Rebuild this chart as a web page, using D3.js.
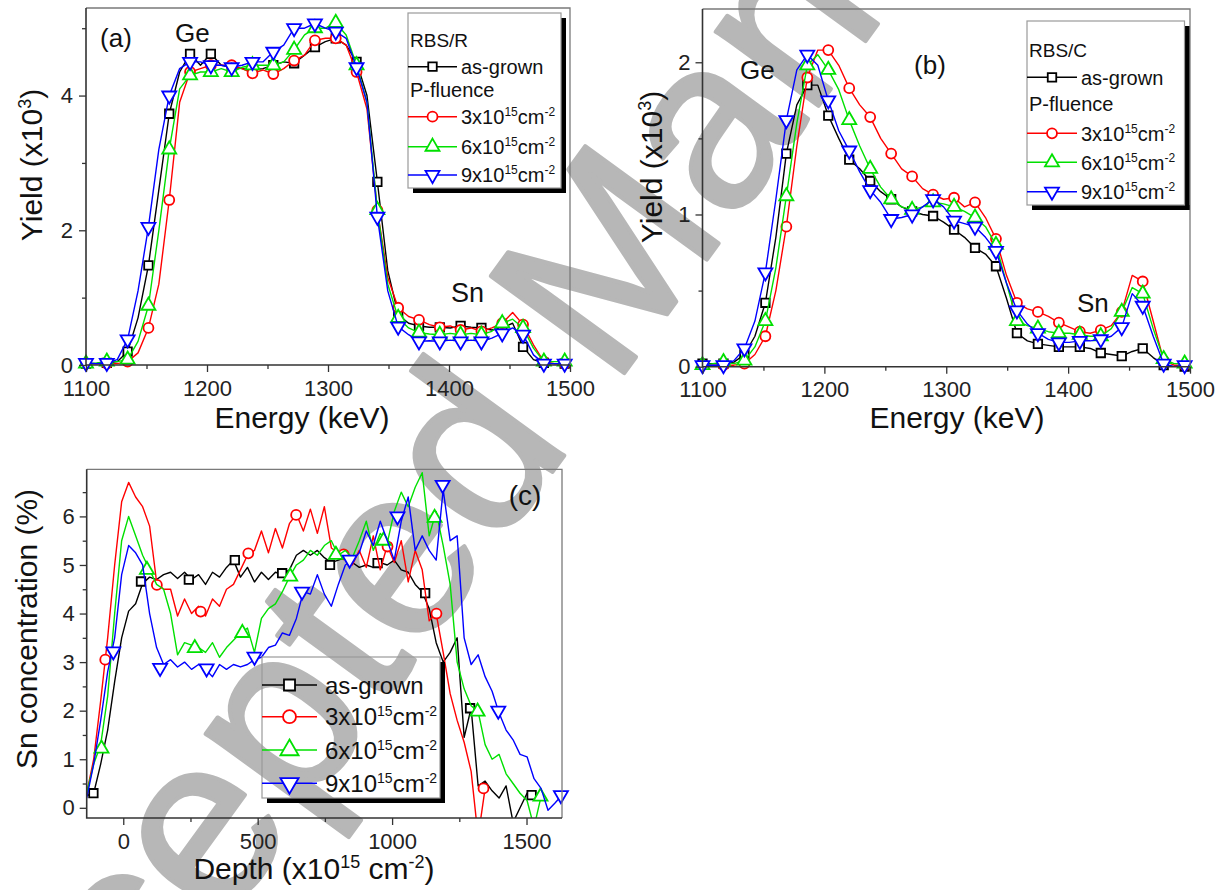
<!DOCTYPE html>
<html>
<head>
  <meta charset="utf-8">
  <title>RBS/R, RBS/C spectra and Sn depth profiles</title>
  <style type="text/css">
    body { margin: 0; background: #fff; }
    svg text { font-family: "Liberation Sans", Arial, sans-serif; fill: #111; white-space: pre; }
  </style>
</head>
<body>
<script src="https://cdn.jsdelivr.net/npm/d3@7"></script>
<script>

// ---------- data ----------
// channel energies (keV), shared by panels (a) and (b)
var energy = [1100, 1108.6, 1117.2, 1125.8, 1134.4, 1143, 1151.6, 1160.2, 1168.8, 1177.4,
  1186, 1194.6, 1203.2, 1211.8, 1220.4, 1229, 1237.6, 1246.2, 1254.8, 1263.4,
  1272, 1280.6, 1289.2, 1297.8, 1306.4, 1315, 1323.6, 1332.2, 1340.8, 1349.4,
  1358, 1366.6, 1375.2, 1383.8, 1392.4, 1401, 1409.6, 1418.2, 1426.8, 1435.4,
  1444, 1452.6, 1461.2, 1469.8, 1478.4, 1487, 1495.6, 1504.2];

// (a) RBS random yield, x10^3 counts
var rbsRAsGrown = [0.02, 0.02, 0.03, 0.05, 0.2, 0.7, 1.48, 2.6, 3.73, 4.35,
  4.62, 4.45, 4.62, 4.45, 4.42, 4.4, 4.38, 4.4, 4.45, 4.5,
  4.48, 4.6, 4.72, 4.8, 4.85, 4.75, 4.5, 4.0, 2.72, 1.4,
  0.75, 0.62, 0.58, 0.56, 0.56, 0.55, 0.58, 0.56, 0.55, 0.52,
  0.55, 0.62, 0.27, 0.08, 0.03, 0.02, 0.02, 0.02];
var rbsR3 = [0.02, 0.02, 0.02, 0.02, 0.05, 0.18, 0.55, 1.2, 2.45, 3.9,
  4.35, 4.4, 4.45, 4.45, 4.45, 4.4, 4.33, 4.38, 4.32, 4.4,
  4.52, 4.6, 4.82, 4.85, 4.85, 4.75, 4.35, 3.8, 2.3, 1.3,
  0.85, 0.72, 0.67, 0.6, 0.56, 0.58, 0.52, 0.55, 0.5, 0.55,
  0.62, 0.78, 0.6, 0.3, 0.05, 0.02, 0.02, 0.02];
var rbsR6 = [0.02, 0.03, 0.05, 0.05, 0.08, 0.35, 0.88, 2.0, 3.2, 4.1,
  4.3, 4.35, 4.35, 4.4, 4.35, 4.42, 4.45, 4.45, 4.45, 4.5,
  4.68, 4.9, 5.0, 5.0, 5.08, 4.9, 4.45, 3.9, 2.3, 1.2,
  0.7, 0.55, 0.48, 0.46, 0.45, 0.47, 0.45, 0.47, 0.45, 0.5,
  0.62, 0.68, 0.55, 0.25, 0.05, 0.05, 0.05, 0.05];
var rbsR9 = [0.03, 0.02, 0.03, 0.08, 0.38, 1.1, 2.05, 3.2, 4.0, 4.4,
  4.5, 4.5, 4.45, 4.45, 4.42, 4.45, 4.5, 4.5, 4.65, 4.75,
  5.0, 5.0, 5.07, 5.0, 4.95, 4.85, 4.42, 3.9, 2.2, 1.1,
  0.57, 0.45, 0.35, 0.36, 0.35, 0.37, 0.35, 0.37, 0.35, 0.4,
  0.47, 0.55, 0.45, 0.15, 0.02, 0.02, 0.02, 0.02];

// (b) RBS channeling yield, x10^3 counts
var rbsCAsGrown = [0.02, 0.02, 0.02, 0.03, 0.08, 0.2, 0.42, 0.85, 1.4, 1.72,
  1.85, 1.85, 1.65, 1.5, 1.36, 1.3, 1.22, 1.15, 1.1, 1.05,
  1.02, 1.0, 0.99, 0.95, 0.9, 0.85, 0.78, 0.74, 0.66, 0.45,
  0.22, 0.17, 0.15, 0.14, 0.13, 0.13, 0.13, 0.12, 0.09, 0.08,
  0.07, 0.1, 0.12, 0.06, 0.01, 0.0, 0.0, 0.0];
var rbsC3 = [0.01, 0.01, 0.01, 0.01, 0.02, 0.08, 0.2, 0.5, 0.92, 1.45,
  1.9, 2.08, 2.08, 1.98, 1.83, 1.72, 1.64, 1.5, 1.4, 1.3,
  1.25, 1.17, 1.13, 1.1, 1.11, 1.05, 1.08, 0.98, 0.84, 0.6,
  0.42, 0.38, 0.36, 0.33, 0.29, 0.26, 0.23, 0.22, 0.24, 0.27,
  0.36, 0.6, 0.56, 0.3, 0.04, 0.01, 0.01, 0.01];
var rbsC6 = [0.01, 0.02, 0.03, 0.02, 0.04, 0.13, 0.3, 0.65, 1.12, 1.6,
  1.98, 2.05, 1.95, 1.82, 1.62, 1.45, 1.3, 1.18, 1.1, 1.05,
  1.03, 1.05, 1.08, 1.07, 1.05, 1.02, 0.98, 0.92, 0.8, 0.55,
  0.3, 0.27, 0.25, 0.23, 0.22, 0.22, 0.21, 0.2, 0.2, 0.25,
  0.36, 0.52, 0.48, 0.25, 0.05, 0.02, 0.02, 0.03];
var rbsC9 = [0.01, 0.01, 0.01, 0.04, 0.12, 0.3, 0.62, 1.1, 1.62, 1.95,
  2.05, 1.98, 1.75, 1.55, 1.42, 1.28, 1.16, 1.08, 0.97, 0.98,
  1.0, 1.05, 1.1, 1.05, 0.96, 0.94, 0.92, 0.85, 0.76, 0.55,
  0.37, 0.28, 0.22, 0.18, 0.16, 0.16, 0.17, 0.17, 0.18, 0.2,
  0.26, 0.48, 0.4, 0.2, 0.02, 0.0, 0.01, 0.01];

// (c) Sn depth profiles, depth in 10^15 at/cm^2, concentration in %
var depth = [-136, -110, -84, -58, -32, -6, 20, 46, 72, 98,
  124, 150, 176, 202, 228, 254, 280, 306, 332, 358,
  384, 410, 436, 462, 488, 514, 540, 566, 592, 618,
  644, 670, 696, 722, 748, 774, 800, 826, 852, 878,
  904, 930, 956, 982, 1008, 1034, 1060, 1086, 1112, 1138,
  1164, 1190, 1216, 1242, 1268, 1294, 1320, 1346, 1372, 1398,
  1424, 1450, 1476, 1502, 1528, 1554, 1580, 1606, 1632];
var snAsGrown = [0.25, 0.3, 0.9, 1.6, 2.6, 3.5, 4.05, 4.2, 4.62, 4.75,
  4.7, 4.8, 4.85, 4.72, 4.85, 4.7, 4.8, 4.6, 4.85, 4.75,
  4.95, 5.1, 4.75, 4.95, 4.65, 4.85, 4.7, 4.85, 4.8, 4.9,
  5.2, 5.3, 5.2, 5.3, 5.15, 5.05, 5.1, 5.15, 5.05, 4.95,
  5.0, 4.95, 5.05, 5.0, 5.1, 4.9, 4.85, 4.6, 4.45, 4.1,
  3.4, 3.0, 3.2, 3.5, 1.45, 2.05, 0.45, 0.55, 0.35, 0.2,
  0.45, -0.3, 0.0, 0.3, 0.28, null, null, null, null];
var snP3 = [0.3, 1.0, 2.2, 3.5, 5.0, 6.3, 6.7, 6.4, 6.2, 5.8,
  4.65, 4.5, 4.5, 3.95, 4.3, 4.0, 4.15, 3.95, 4.3, 4.15,
  4.5, 4.6, 4.9, 5.2, 5.3, 5.7, 5.25, 5.75, 5.35, 5.85,
  6.05, 5.7, 6.15, 5.65, 6.2, 5.35, 5.25, 5.25, 5.0, 5.3,
  4.95, 5.6, 4.9, 5.4, 5.05, 5.5, 4.65, 5.3, 4.9, 3.85,
  4.0, 3.2, 2.35, 1.8, 1.35, 0.75, -0.6, 0.4, null, null,
  null, null, null, null, null, null, null, null, null];
var snP6 = [0.3, 0.9, 1.3, 2.3, 4.0, 5.5, 6.0, 5.6, 5.2, 4.9,
  4.6, 4.5, 4.0, 3.15, 3.4, 3.35, 3.3, 3.2, 3.4, 3.1,
  3.3, 3.45, 3.6, 3.7, 3.2, 3.9, 4.1, 4.2, 4.45, 4.75,
  5.0, 5.1, 5.3, 5.2, 5.4, 5.5, 5.2, 5.3, 5.15, 5.5,
  5.9, 5.3, 5.65, 5.45, 6.1, 6.5, 6.2, 6.6, 6.9, 5.6,
  6.1, 5.4, 4.6, 3.0, 2.45, 2.1, 1.98, 1.3, 1.0, 1.1,
  0.7, 0.5, 0.3, 0.15, -0.4, 0.23, null, null, null];
var snP9 = [0.2, 0.9, 1.8, 2.8, 3.5, 4.8, 5.4, 5.25, 5.0, 4.0,
  3.3, 2.95, 3.05, 2.9, 3.0, 2.85, 2.95, 2.85, 2.7, 2.95,
  2.85, 2.95, 2.9, 2.95, 3.05, 3.1, 3.3, 3.35, 3.6, 3.55,
  3.9, 4.45, 4.4, 4.8, 4.4, 4.15, 4.6, 5.0, 5.1, 5.25,
  5.7, 5.4, 5.9, 5.5, 5.1, 5.9, 6.4, 5.3, 5.6, 5.3,
  5.1, 6.55, 5.5, 5.6, 3.5, 2.95, 3.15, 2.7, 2.4, 1.95,
  1.6, 1.4, 1.1, 1.05, 0.6, 0.4, -0.05, 0.1, 0.26];

// (c) symbol positions
var markAsGrownD = [-111, 66, 244, 415, 591, 769, 946, 1123, 1290, 1519];
var markAsGrownC = [0.3, 4.66, 4.7, 5.1, 4.83, 5.0, 5.04, 4.42, 2.05, 0.26];
var markP3D = [-67, 125, 288, 465, 643, 820, 983, 1165, 1340];
var markP3C = [3.05, 4.59, 4.04, 5.24, 6.03, 5.22, 5.38, 4.0, 0.4];
var markP6D = [-81, 88, 266, 443, 621, 791, 968, 1158, 1318, 1552];
var markP6C = [1.22, 4.9, 3.29, 3.6, 4.76, 5.21, 5.5, 5.97, 1.98, 0.23];
var markP9D = [-37, 137, 310, 488, 665, 842, 1020, 1188, 1395, 1628];
var markP9C = [3.22, 2.88, 2.87, 3.11, 4.45, 5.11, 6.0, 6.65, 2.0, 0.26];

var seriesNames = ["as-grown", "3x10^15cm^-2", "6x10^15cm^-2", "9x10^15cm^-2"];

// ticks
var energyTicks = [1100, 1200, 1300, 1400, 1500];
var energyMinor = [1150, 1250, 1350, 1450];
var yieldRTicks = [0, 2, 4];
var yieldRMinor = [1, 3, 5];
var yieldCTicks = [0, 1, 2];
var yieldCMinor = [0.5, 1.5];
var depthTicks = [0, 500, 1000, 1500];
var depthMinor = [250, 750, 1250];
var concTicks = [0, 1, 2, 3, 4, 5, 6];
var concMinor = [0.5, 1.5, 2.5, 3.5, 4.5, 5.5, 6.5];

// ---------- styles ----------
var colors = ["#000000", "#ff0000", "#00e000", "#0000ff"];
var symbols = ["square", "circle", "triangle", "triangleDown"];

var svg = d3.select("body").append("svg")
  .attr("width", 1220)
  .attr("height", 890)
  .style("display", "block");

var defs = svg.append("defs");

// manuscript watermark, underneath everything
svg.append("text")
  .attr("transform", "translate(644,346) rotate(-54)")
  .attr("text-anchor", "middle")
  .style("font-size", "240px")
  .style("fill", "#b7b7b7")
  .style("stroke", "#b7b7b7")
  .style("stroke-width", "4px")
  .style("stroke-linejoin", "round")
  .text("Accepted Manuscript");

// ---------- helpers ----------
function symbolPath(kind, k) {
  k = k || 1;
  if (kind === "square") return d3.symbol(d3.symbolSquare, 72 * k * k)();
  if (kind === "circle") return d3.symbol(d3.symbolCircle, 78 * k * k)();
  return d3.symbol(d3.symbolTriangle, 85 * k * k)();
}

function drawSymbol(g, kind, x, y, color, k) {
  g.append("path")
    .attr("d", symbolPath(kind, k))
    .attr("transform", "translate(" + x + "," + y + ")" + (kind === "triangleDown" ? " rotate(180)" : ""))
    .attr("fill", "#fff")
    .attr("stroke", color)
    .attr("stroke-width", 1.8);
}

// text with ^superscripts
function richText(sel, str, supSize, shift) {
  var parts = str.split(/\^(-?\d+)/);
  var raised = false;
  parts.forEach(function(p, i) {
    if (p === "") return;
    var sup = i % 2 === 1;
    var t = sel.append("tspan").text(p);
    if (sup && !raised) { t.attr("dy", -shift); raised = true; }
    if (!sup && raised) { t.attr("dy", shift); raised = false; }
    if (sup) t.style("font-size", supSize + "px");
  });
  return sel;
}

function addClip(id, x, y) {
  defs.append("clipPath").attr("id", id)
    .append("rect")
    .attr("x", x.range()[0]).attr("y", y.range()[1])
    .attr("width", x.range()[1] - x.range()[0])
    .attr("height", y.range()[0] - y.range()[1]);
}

function drawSeries(x, y, clipId, xs, ys, color, kind, markX, markY) {
  var pts = xs.map(function(v, i) { return [v, ys[i]]; });
  var line = d3.line()
    .defined(function(d) { return d[1] !== null; })
    .x(function(d) { return x(d[0]); })
    .y(function(d) { return y(d[1]); });
  var g = svg.append("g");
  g.append("path")
    .datum(pts)
    .attr("d", line)
    .attr("fill", "none")
    .attr("stroke", color)
    .attr("stroke-width", 1.4)
    .attr("stroke-linejoin", "round")
    .attr("clip-path", "url(#" + clipId + ")");
  markX.forEach(function(mx, i) { drawSymbol(g, kind, x(mx), y(markY[i]), color); });
}

function styleAxis(g) {
  g.select(".domain").remove();
  g.attr("font-size", 22).attr("font-family", null);
  g.selectAll("line").attr("stroke", "#333").attr("stroke-width", 1.3);
  g.selectAll("text").style("fill", "#222");
}

function drawFrame(x, y, xMajor, xMinor, yMajor, yMinor, yPad) {
  var left = x.range()[0], right = x.range()[1], bottom = y.range()[0], top = y.range()[1];
  var fmt = d3.format("d");
  svg.append("g").attr("transform", "translate(0," + bottom + ")")
    .call(d3.axisBottom(x).tickValues(xMajor).tickSize(7).tickSizeOuter(0).tickPadding(8).tickFormat(fmt))
    .call(styleAxis);
  svg.append("g").attr("transform", "translate(0," + bottom + ")")
    .call(d3.axisBottom(x).tickValues(xMinor).tickSize(4).tickSizeOuter(0).tickFormat(""))
    .call(styleAxis);
  svg.append("g").attr("transform", "translate(" + left + ",0)")
    .call(d3.axisLeft(y).tickValues(yMajor).tickSize(7).tickSizeOuter(0).tickPadding(yPad).tickFormat(fmt))
    .call(styleAxis);
  svg.append("g").attr("transform", "translate(" + left + ",0)")
    .call(d3.axisLeft(y).tickValues(yMinor).tickSize(4).tickSizeOuter(0).tickFormat(""))
    .call(styleAxis);
  // gray top/right border, dark left/bottom axes
  svg.append("path")
    .attr("d", "M" + left + "," + top + "H" + right + "V" + bottom)
    .attr("fill", "none").attr("stroke", "#7a7a7a").attr("stroke-width", 1.3);
  svg.append("path")
    .attr("d", "M" + left + "," + top + "V" + bottom + "H" + right)
    .attr("fill", "none").attr("stroke", "#333").attr("stroke-width", 1.6);
}

function label(x, y, str, size, anchor, rotate) {
  var t = svg.append("text")
    .attr("transform", "translate(" + x + "," + y + ")" + (rotate ? " rotate(" + rotate + ")" : ""))
    .attr("text-anchor", anchor || "start")
    .style("font-size", size + "px");
  richText(t, str, Math.round(size * 0.6), Math.round(size * 0.38));
  return t;
}

// legend box with a black drop shadow on the right and bottom
function legendBox(x0, y0, x1, y1) {
  svg.append("rect").attr("x", x1).attr("y", y0 + 5).attr("width", 5).attr("height", y1 - y0)
    .attr("fill", "#000");
  svg.append("rect").attr("x", x0 + 5).attr("y", y1).attr("width", x1 - x0).attr("height", 5)
    .attr("fill", "#000");
  svg.append("rect").attr("x", x0).attr("y", y0).attr("width", x1 - x0).attr("height", y1 - y0)
    .attr("fill", "none").attr("stroke", "#9a9a9a").attr("stroke-width", 1.2);
}

function legendRow(i, lx0, lx1, ty, textX, size, k) {
  var g = svg.append("g");
  g.append("line").attr("x1", lx0).attr("x2", lx1).attr("y1", ty).attr("y2", ty)
    .attr("stroke", colors[i]).attr("stroke-width", 1.5);
  drawSymbol(g, symbols[i], (lx0 + lx1) / 2, ty, colors[i], k);
  label(textX, ty + size * 0.36, seriesNames[i], size, "start");
}

// ---------- panel (a) ----------
var xA = d3.scaleLinear().domain([1100, 1500]).range([86, 570]);
var yA = d3.scaleLinear().domain([0, 5.3]).range([365, 8]);
addClip("clipA", xA, yA);

var evenE = energy.filter(function(e, i) { return i % 2 === 0 && e <= 1500; });
function evenOf(arr) { return arr.filter(function(v, i) { return i % 2 === 0 && energy[i] <= 1500; }); }

[rbsRAsGrown, rbsR3, rbsR6, rbsR9].forEach(function(ys, i) {
  drawSeries(xA, yA, "clipA", energy, ys, colors[i], symbols[i], evenE, evenOf(ys));
});
drawFrame(xA, yA, energyTicks, energyMinor, yieldRTicks, yieldRMinor, 6);

label(42, 165, "Yield (x10^3)", 30, "middle", -90);
label(302, 428, "Energy (keV)", 30, "middle");
label(116, 47, "(a)", 26, "middle");
label(175, 42, "Ge", 26, "start");
label(451, 302, "Sn", 27, "start");

legendBox(408, 13, 561, 188);
label(410, 47, "RBS/R", 19, "start");
label(410, 97, "P-fluence", 20, "start");
[66.7, 116.7, 146.7, 175].forEach(function(ty, i) { legendRow(i, 408, 457, ty, 461, 20, 1); });

// ---------- panel (b) ----------
var xB = d3.scaleLinear().domain([1100, 1500]).range([702.5, 1190]);
var yB = d3.scaleLinear().domain([0, 2.35]).range([366.7, 9]);
addClip("clipB", xB, yB);

[rbsCAsGrown, rbsC3, rbsC6, rbsC9].forEach(function(ys, i) {
  drawSeries(xB, yB, "clipB", energy, ys, colors[i], symbols[i], evenE, evenOf(ys));
});
drawFrame(xB, yB, energyTicks, energyMinor, yieldCTicks, yieldCMinor, 5);

label(662, 167, "Yield (x10^3)", 30, "middle", -90);
label(957, 428, "Energy (keV)", 30, "middle");
label(930, 74, "(b)", 26, "middle");
label(740, 79, "Ge", 26, "start");
label(1077, 312, "Sn", 26, "start");

legendBox(1027, 21, 1184.5, 205);
label(1029, 57, "RBS/C", 19, "start");
label(1029, 110.5, "P-fluence", 20, "start");
[77.3, 133.3, 162.3, 191.7].forEach(function(ty, i) { legendRow(i, 1027, 1077, ty, 1081, 20, 1); });

// ---------- panel (c) ----------
var xC = d3.scaleLinear().domain([-136, 1632]).range([86.7, 562]);
var yC = d3.scaleLinear().domain([-0.21, 6.97]).range([818, 469.3]);
addClip("clipC", xC, yC);

var profiles = [snAsGrown, snP3, snP6, snP9];
var marksD = [markAsGrownD, markP3D, markP6D, markP9D];
var marksC = [markAsGrownC, markP3C, markP6C, markP9C];
profiles.forEach(function(ys, i) {
  drawSeries(xC, yC, "clipC", depth, ys, colors[i], symbols[i], marksD[i], marksC[i]);
});
drawFrame(xC, yC, depthTicks, depthMinor, concTicks, concMinor, 5);

label(37, 629, "Sn concentration (%)", 30, "middle", -90);
label(314, 879, "Depth (x10^15 cm^-2)", 30, "middle");
label(525, 505, "(c)", 28, "middle");

legendBox(262, 657, 440, 798);
[685, 716.7, 750, 783.3].forEach(function(ty, i) { legendRow(i, 262, 317, ty, 325, 24, 1.3); });

</script>
</body>
</html>
